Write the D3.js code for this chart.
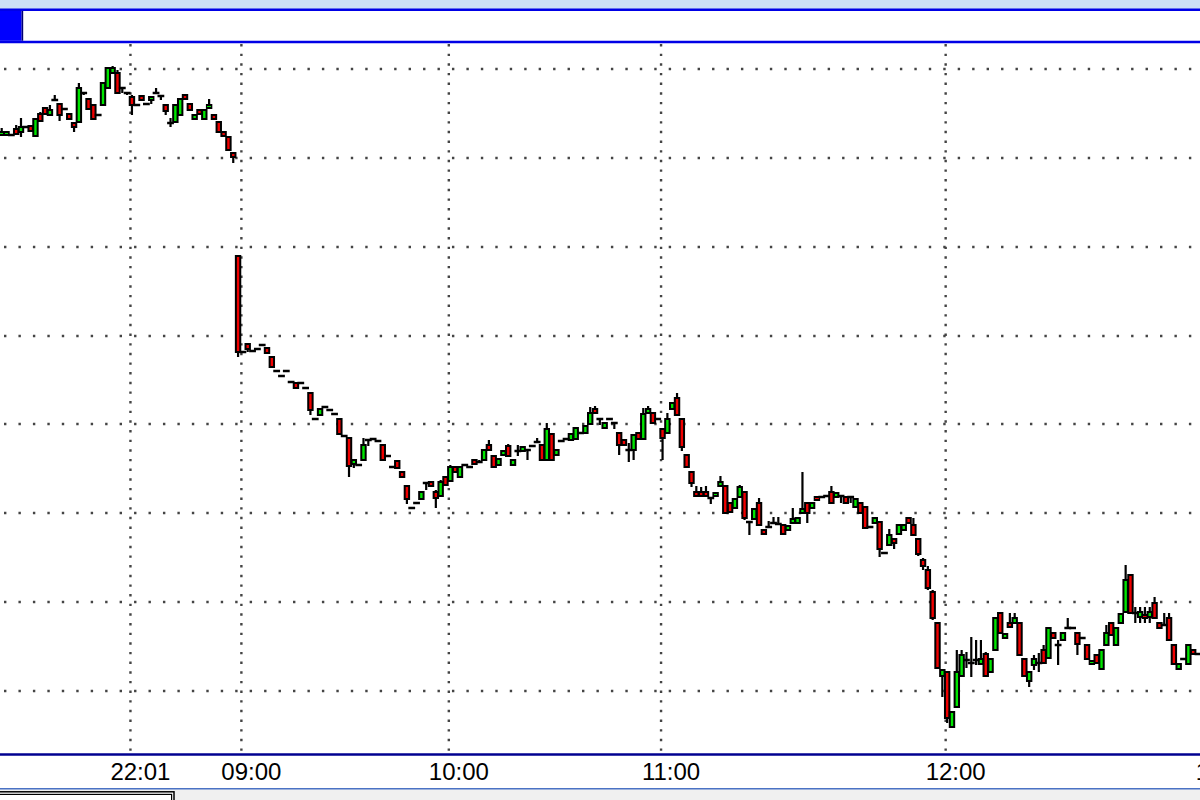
<!DOCTYPE html>
<html lang="en">
<head>
    <meta charset="UTF-8">
    <title>Intraday Candles</title>
    <script src="https://d3js.org/d3.v7.min.js"></script>
    <style>
        body {
            margin: 0;
            overflow: hidden;
            background: #fff;
        }
        svg {
            display: block;
        }
        .time-label {
            font-family: 'Liberation Sans', Arial, sans-serif;
            font-size: 24px;
            fill: #000;
        }
    </style>
</head>
<body>
    <svg id="chart"></svg>

    <script>
        // one entry per bar, price in chart points
        const openP = [
            665,665,665,671,668,673,674,664,686,692,
            685,700,696,691,686,677,678,707,701,695,
            685,695,712,727,727,712,707,703,695,704,
            696,700,707,704,695,677,678,685,705,696,
            681,690,681,692,685,678,668,663,647,544,
            448,456,449,451,455,452,443,429,424,429,
            418,417,417,412,407,381,385,393,390,386,
            381,364,362,336,335,340,360,361,359,355,
            344,333,339,328,314,292,297,301,317,318,
            308,304,323,319,333,323,335,333,340,338,
            340,355,344,335,345,354,335,349,349,350,
            354,358,355,340,366,345,359,361,360,361,
            367,367,376,391,381,372,381,377,367,360,
            350,350,367,361,387,387,381,371,367,391,
            402,381,345,328,308,308,308,302,304,314,
            314,297,292,303,308,278,281,297,270,273,
            277,276,275,270,277,277,287,297,292,303,
            303,304,308,303,304,303,303,293,297,293,
            273,277,278,247,255,261,266,270,282,275,
            261,240,230,208,177,124,128,73,93,124,
            140,137,140,136,146,128,150,187,162,177,
            177,177,141,119,135,137,150,142,167,155,
            160,172,172,167,162,155,136,145,131,155,
            177,155,177,188,225,187,183,185,183,197,
            177,175,182,155,131,141,136,150,146
        ];
        const highP = [
            672,668,666,675,682,674,675,682,688,692,
            695,705,697,691,687,678,717,708,702,696,
            685,717,733,734,730,712,708,705,695,704,
            696,704,712,704,695,682,696,702,705,696,
            685,690,691,701,686,679,668,664,647,544,
            448,457,449,451,455,452,444,429,424,429,
            418,418,417,412,408,381,391,394,390,386,
            381,364,362,341,335,362,360,361,359,355,
            344,333,339,328,314,292,297,308,317,318,
            310,320,324,335,334,334,335,333,340,340,
            351,360,345,342,350,356,341,355,354,350,
            354,362,355,377,367,351,359,361,367,373,
            367,375,393,394,381,378,381,377,367,360,
            357,366,367,392,394,388,381,372,387,398,
            407,381,345,328,314,313,314,302,307,324,
            315,297,301,315,308,278,291,302,270,279,
            283,283,276,275,292,282,328,297,298,303,
            303,304,314,307,304,303,303,301,298,294,
            273,282,279,247,271,262,275,275,283,282,
            262,242,234,210,178,131,129,89,150,150,
            148,163,160,160,148,142,183,187,167,187,
            187,178,142,129,145,147,155,173,168,160,
            168,182,172,168,162,156,140,146,151,175,
            178,173,187,235,226,193,193,193,193,203,
            178,187,187,156,137,141,156,151,146
        ];
        const lowP = [
            664,665,664,665,663,672,668,663,678,685,
            684,700,679,691,680,668,677,705,690,680,
            685,694,711,726,706,707,705,685,695,700,
            696,696,706,700,685,673,678,684,700,689,
            680,685,680,692,680,667,663,649,637,443,
            447,448,449,451,455,447,432,429,424,429,
            418,411,417,412,385,381,385,393,390,386,
            365,364,323,332,335,339,354,361,359,339,
            344,333,332,322,296,292,297,300,310,313,
            292,303,314,318,327,322,335,333,335,337,
            339,349,332,334,344,343,334,344,348,340,
            354,358,339,339,339,344,359,361,359,360,
            367,366,375,386,375,371,381,371,345,354,
            338,340,360,360,386,376,381,340,366,390,
            384,349,332,313,303,303,303,296,303,313,
            286,287,291,302,280,265,280,274,265,273,
            277,276,265,269,276,276,286,277,291,299,
            303,304,296,302,297,296,297,292,286,271,
            273,276,243,247,254,251,265,269,276,264,
            244,230,210,180,131,103,77,72,92,123,
            132,123,135,135,123,127,149,166,161,172,
            176,144,123,113,130,128,136,141,161,135,
            159,172,172,145,162,140,135,136,130,154,
            164,154,176,187,186,177,177,177,177,181,
            171,174,159,135,130,141,135,145,146
        ];
        const closeP = [
            668,668,665,666,673,673,669,681,679,686,
            690,700,685,691,681,673,712,707,691,681,
            685,717,732,732,707,712,707,695,695,700,
            696,703,707,704,689,677,695,701,701,690,
            685,686,690,695,681,668,664,650,643,448,
            448,451,449,451,455,447,433,429,424,429,
            418,412,417,412,390,381,391,393,390,386,
            366,364,334,340,335,355,360,361,359,340,
            344,333,332,323,301,292,297,308,317,314,
            302,318,315,333,328,333,335,333,336,338,
            350,350,333,341,349,344,340,349,353,350,
            354,358,340,371,340,350,359,361,366,372,
            367,374,387,387,381,377,381,377,355,355,
            350,365,361,386,391,377,381,362,381,397,
            385,353,333,317,304,304,304,302,307,318,
            287,288,301,313,282,278,291,275,266,273,
            277,276,266,274,281,282,291,287,297,300,
            303,304,297,307,304,297,303,301,287,272,
            273,282,251,247,265,257,275,275,277,265,
            246,234,212,182,132,130,82,88,128,145,
            140,137,140,141,124,141,182,167,166,173,
            182,145,124,128,141,137,137,172,162,155,
            167,172,172,156,162,141,139,137,150,167,
            165,172,186,220,187,187,188,182,188,182,
            172,175,160,136,136,141,155,146,146
        ];

        // horizontal dotted price levels
        const priceGrid = [731, 642, 553, 464, 376, 287, 198, 109];

        // bar index of each time label
        const tickIndex = [27, 50, 93, 137, 196, 252];
        const tickLabels = ['22:01', '09:00', '10:00', '11:00', '12:00', '13:00'];

        const width = 1200;
        const height = 800;
        const plotTop = 44;
        const plotBottom = 753;

        const svg = d3.select('#chart')
            .attr('width', width)
            .attr('height', height);

        const x = d3.scaleLinear()
            .domain([0, openP.length - 1])
            .range([1.7, 1198]);

        const y = d3.scaleLinear()
            .domain([46, 757])
            .range([754, 43]);

        // header strip
        svg.append('rect')
            .attr('width', width)
            .attr('height', 9)
            .attr('fill', '#cde0f6');
        svg.append('rect')
            .attr('y', 9)
            .attr('width', width)
            .attr('height', 34)
            .attr('fill', '#fff');
        svg.append('rect')
            .attr('x', 0)
            .attr('y', 10.8)
            .attr('width', 21.6)
            .attr('height', 30)
            .attr('fill', '#0000ff');
        svg.append('line')
            .attr('x1', 22.4).attr('x2', 22.4)
            .attr('y1', 10.8).attr('y2', 40.8)
            .attr('stroke', '#000070')
            .attr('stroke-width', 1.6);
        [9.7, 42].forEach(yy => {
            svg.append('line')
                .attr('x1', 0).attr('x2', width)
                .attr('y1', yy).attr('y2', yy)
                .attr('stroke', '#0000e6')
                .attr('stroke-width', 2.4);
        });

        // dotted grid
        const grid = svg.append('g');
        grid.selectAll('line.hgrid')
            .data(priceGrid)
            .join('line')
            .attr('class', 'hgrid')
            .attr('x1', 4)
            .attr('x2', width)
            .attr('y1', d => y(d))
            .attr('y2', d => y(d))
            .attr('stroke', '#444')
            .attr('stroke-width', 2.4)
            .attr('stroke-dasharray', '2.4 12.05');

        grid.selectAll('line.vgrid')
            .data(tickIndex)
            .join('line')
            .attr('class', 'vgrid')
            .attr('x1', d => x(d) - 1.5)
            .attr('x2', d => x(d) - 1.5)
            .attr('y1', plotTop)
            .attr('y2', plotBottom)
            .attr('stroke', '#444')
            .attr('stroke-width', 2.4)
            .attr('stroke-dasharray', '2.4 7.25');

        // candles
        const bars = d3.range(openP.length);
        const candles = svg.append('g');

        candles.selectAll('line.wick')
            .data(bars)
            .join('line')
            .attr('class', 'wick')
            .attr('x1', i => x(i))
            .attr('x2', i => x(i))
            .attr('y1', i => y(highP[i]))
            .attr('y2', i => y(lowP[i]))
            .attr('stroke', '#000')
            .attr('stroke-width', 2.2);

        candles.selectAll('rect.body')
            .data(bars.filter(i => openP[i] !== closeP[i]))
            .join('rect')
            .attr('class', 'body')
            .attr('x', i => x(i) - 2.2)
            .attr('width', 4.4)
            .attr('y', i => y(Math.max(openP[i], closeP[i])))
            .attr('height', i => y(Math.min(openP[i], closeP[i])) - y(Math.max(openP[i], closeP[i])))
            .attr('fill', i => closeP[i] > openP[i] ? '#00e600' : '#f00000')
            .attr('stroke', '#000')
            .attr('stroke-width', 2);

        // bars that closed where they opened
        candles.selectAll('line.doji')
            .data(bars.filter(i => openP[i] === closeP[i]))
            .join('line')
            .attr('class', 'doji')
            .attr('x1', i => x(i) - 3.4)
            .attr('x2', i => x(i) + 3.4)
            .attr('y1', i => y(openP[i]))
            .attr('y2', i => y(openP[i]))
            .attr('stroke', '#000')
            .attr('stroke-width', 2.5);

        // time axis
        svg.append('rect')
            .attr('y', 755)
            .attr('width', width)
            .attr('height', 34)
            .attr('fill', '#fff');
        svg.append('line')
            .attr('x1', 0).attr('x2', width)
            .attr('y1', 754.5).attr('y2', 754.5)
            .attr('stroke', '#000090')
            .attr('stroke-width', 2.4);

        svg.selectAll('text.time-label')
            .data(tickIndex)
            .join('text')
            .attr('class', 'time-label')
            .attr('x', d => x(d) + 8.5)
            .attr('y', 780)
            .attr('text-anchor', 'middle')
            .text((d, i) => tickLabels[i]);

        svg.append('line')
            .attr('x1', 0).attr('x2', width)
            .attr('y1', 788.8).attr('y2', 788.8)
            .attr('stroke', '#4a72c4')
            .attr('stroke-width', 1.8);

        // scroll strip
        svg.append('rect')
            .attr('y', 789.7)
            .attr('width', width)
            .attr('height', 11)
            .attr('fill', '#f0f0f0');
        svg.append('rect')
            .attr('x', -2)
            .attr('y', 791.8)
            .attr('width', 176)
            .attr('height', 20)
            .attr('fill', '#fff')
            .attr('stroke', '#000')
            .attr('stroke-width', 1.5);
        svg.append('rect')
            .attr('x', -2)
            .attr('y', 794.4)
            .attr('width', 173.6)
            .attr('height', 20)
            .attr('fill', 'none')
            .attr('stroke', '#000')
            .attr('stroke-width', 1.2);
    </script>
</body>
</html>
